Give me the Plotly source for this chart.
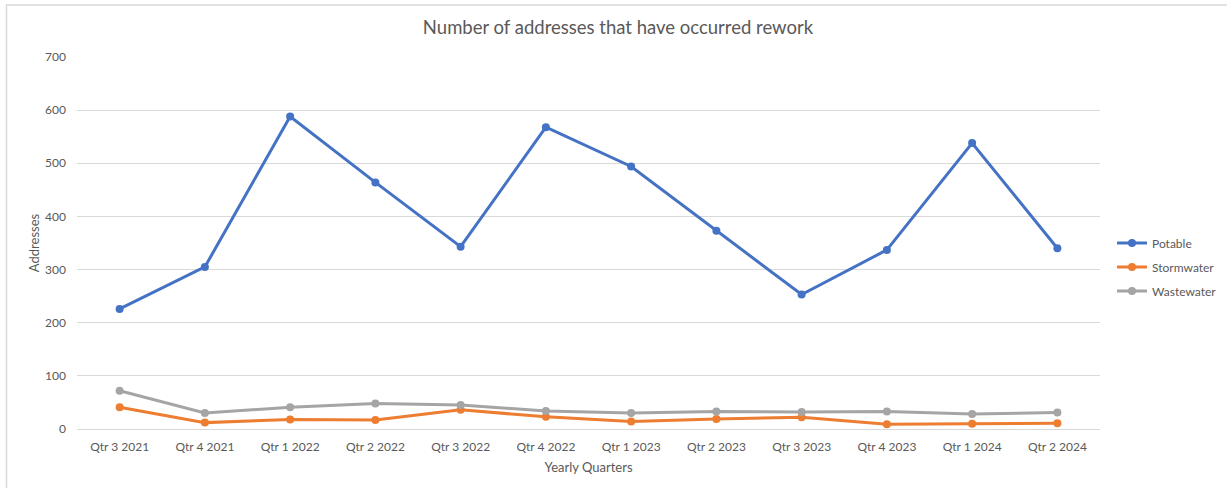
import plotly.graph_objects as go

quarters = ["Qtr 3 2021", "Qtr 4 2021", "Qtr 1 2022", "Qtr 2 2022", "Qtr 3 2022", "Qtr 4 2022",
            "Qtr 1 2023", "Qtr 2 2023", "Qtr 3 2023", "Qtr 4 2023", "Qtr 1 2024", "Qtr 2 2024"]
potable = [226, 305, 588, 464, 343, 568, 494, 373, 253, 337, 538, 340]
stormwater = [41, 12, 18, 17, 36, 23, 14, 19, 22, 9, 10, 11]
wastewater = [72, 30, 41, 48, 45, 34, 30, 33, 32, 33, 28, 31]
y_ticks = [0, 100, 200, 300, 400, 500, 600, 700]

W, H = 1227, 488
L, R, T, B = 77, 127, 57, 59
pw, ph = W - L - R, H - T - B

FONT = "Lato, 'Open Sans', sans-serif"
TXT = "#595959"

fig = go.Figure()
for name, vals, col in [("Potable", potable, "#4472C4"),
                        ("Stormwater", stormwater, "#ED7D31"),
                        ("Wastewater", wastewater, "#A5A5A5")]:
    fig.add_trace(go.Scatter(
        x=quarters, y=vals, name=name, legendgroup=name, mode="lines+markers",
        line=dict(color=col, width=3),
        marker=dict(color=col, size=8),
    ))

def px_x(p):
    return (p - L) / pw

def px_y(p):
    return (H - B - p) / ph

fig.update_layout(
    width=W, height=H,
    margin=dict(l=L, r=R, t=T, b=B, autoexpand=False),
    paper_bgcolor="white", plot_bgcolor="white",
    font=dict(family=FONT, color=TXT, size=12),
    title=dict(text="Number of addresses that have occurred rework",
               font=dict(size=18.5, color=TXT, family=FONT),
               xref="container", x=618 / W, xanchor="center",
               yref="container", y=1 - 28 / H, yanchor="middle"),
    xaxis=dict(type="category", showgrid=False, showline=False, ticks="",
               range=[-0.5, len(quarters) - 0.5],
               tickfont=dict(size=12, color=TXT), ticklabelstandoff=9,
               title=dict(text="Yearly Quarters", font=dict(size=13, color=TXT), standoff=9)),
    yaxis=dict(range=[0, 700], tickvals=y_ticks, showgrid=True, gridcolor="#D9D9D9",
               gridwidth=1, zeroline=True, zerolinecolor="#D9D9D9", zerolinewidth=1,
               showline=False, ticks="", tickfont=dict(size=12, color=TXT),
               ticklabelstandoff=10,
               title=dict(text="Addresses", font=dict(size=13, color=TXT), standoff=2)),
    legend=dict(x=px_x(1112), xanchor="left", y=px_y(267), yanchor="middle",
                font=dict(size=12, color=TXT), bgcolor="rgba(0,0,0,0)",
                itemwidth=30, traceorder="grouped", tracegroupgap=5),
    showlegend=True,
)

# light frame along the top and left edges of the chart area
fig.add_shape(type="line", xref="paper", yref="paper",
              x0=px_x(6), x1=px_x(1227), y0=px_y(5), y1=px_y(5),
              line=dict(color="#D9D9D9", width=1.5), layer="below")
fig.add_shape(type="line", xref="paper", yref="paper",
              x0=px_x(6.5), x1=px_x(6.5), y0=px_y(5), y1=px_y(488),
              line=dict(color="#D9D9D9", width=1.5), layer="below")

fig.write_html("out.html")
